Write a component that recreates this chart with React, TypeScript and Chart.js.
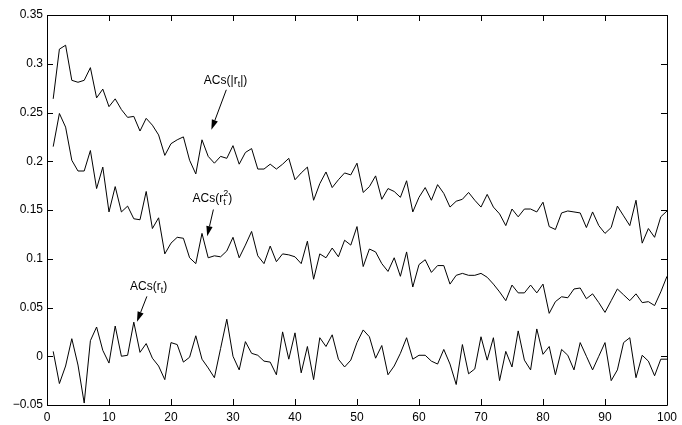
import React, { useEffect, useRef } from "react";
import { Chart, registerables } from "chart.js";

Chart.register(...registerables);

// Lags (x categories)
const lags = [
  1, 2, 3, 4, 5, 6, 7, 8, 9, 10, 11, 12, 13, 14, 15, 16, 17, 18, 19, 20,
  21, 22, 23, 24, 25, 26, 27, 28, 29, 30, 31, 32, 33, 34, 35, 36, 37, 38, 39, 40,
  41, 42, 43, 44, 45, 46, 47, 48, 49, 50, 51, 52, 53, 54, 55, 56, 57, 58, 59, 60,
  61, 62, 63, 64, 65, 66, 67, 68, 69, 70, 71, 72, 73, 74, 75, 76, 77, 78, 79, 80,
  81, 82, 83, 84, 85, 86, 87, 88, 89, 90, 91, 92, 93, 94, 95, 96, 97, 98, 99, 100,
];

// ACs(|r_t|)
const acsAbs = [
  0.264, 0.315, 0.319, 0.283, 0.281, 0.283, 0.296, 0.265, 0.274, 0.256,
  0.264, 0.253, 0.245, 0.246, 0.231, 0.244, 0.237, 0.227, 0.206, 0.218,
  0.222, 0.225, 0.201, 0.187, 0.222, 0.205, 0.198, 0.205, 0.203, 0.216,
  0.197, 0.209, 0.213, 0.192, 0.192, 0.197, 0.192, 0.197, 0.203, 0.181,
  0.188, 0.194, 0.160, 0.177, 0.189, 0.173, 0.181, 0.188, 0.186, 0.198,
  0.168, 0.174, 0.185, 0.161, 0.172, 0.169, 0.163, 0.180, 0.148, 0.163,
  0.173, 0.160, 0.176, 0.167, 0.153, 0.159, 0.161, 0.168, 0.160, 0.153,
  0.166, 0.153, 0.146, 0.134, 0.151, 0.143, 0.151, 0.151, 0.148, 0.158,
  0.133, 0.130, 0.147, 0.149, 0.148, 0.147, 0.132, 0.148, 0.134, 0.126,
  0.132, 0.154, 0.144, 0.134, 0.160, 0.116, 0.131, 0.122, 0.143, 0.149,
];

// ACs(r_t^2)
const acsSq = [
  0.215, 0.249, 0.235, 0.201, 0.190, 0.190, 0.211, 0.172, 0.194, 0.148,
  0.174, 0.148, 0.154, 0.141, 0.140, 0.169, 0.131, 0.142, 0.105, 0.116,
  0.122, 0.121, 0.101, 0.095, 0.126, 0.101, 0.103, 0.102, 0.108, 0.122,
  0.101, 0.114, 0.128, 0.103, 0.095, 0.113, 0.097, 0.105, 0.104, 0.102,
  0.095, 0.118, 0.079, 0.105, 0.101, 0.111, 0.102, 0.119, 0.114, 0.133,
  0.092, 0.110, 0.107, 0.095, 0.087, 0.101, 0.082, 0.107, 0.071, 0.094,
  0.099, 0.086, 0.093, 0.093, 0.074, 0.083, 0.085, 0.083, 0.083, 0.085,
  0.081, 0.074, 0.066, 0.057, 0.073, 0.065, 0.065, 0.073, 0.065, 0.074,
  0.044, 0.056, 0.061, 0.060, 0.069, 0.070, 0.059, 0.064, 0.055, 0.045,
  0.057, 0.069, 0.063, 0.057, 0.064, 0.055, 0.056, 0.052, 0.066, 0.082,
];

// ACs(r_t)
const acsRaw = [
  0.005, -0.028, -0.010, 0.018, -0.009, -0.048, 0.016, 0.030, 0.006, -0.007,
  0.031, 0.000, 0.001, 0.035, 0.004, 0.013, -0.002, -0.010, -0.024, 0.014,
  0.012, -0.006, -0.001, 0.021, -0.003, -0.012, -0.022, 0.008, 0.038, 0.000,
  -0.014, 0.015, 0.003, 0.001, -0.005, -0.006, -0.019, 0.025, -0.003, 0.024,
  -0.017, 0.010, -0.024, 0.019, 0.010, 0.022, -0.003, -0.011, -0.004, 0.014,
  0.027, 0.020, -0.002, 0.011, -0.019, -0.010, 0.003, 0.019, -0.003, 0.001,
  0.001, -0.005, -0.008, 0.007, -0.008, -0.029, 0.012, -0.018, -0.013, 0.020,
  -0.004, 0.019, -0.025, 0.005, -0.011, 0.026, -0.004, -0.014, 0.028, 0.002,
  0.010, -0.019, 0.007, 0.001, -0.014, 0.014, 0.000, -0.014, 0.000, 0.014,
  -0.025, -0.014, 0.014, 0.019, -0.022, 0.001, -0.005, -0.020, -0.003, -0.003,
];

const xTicks = [0, 10, 20, 30, 40, 50, 60, 70, 80, 90, 100];
const yTicks = [-0.05, 0, 0.05, 0.1, 0.15, 0.2, 0.25, 0.3, 0.35];

const FONT = '"Liberation Sans", Arial, Helvetica, sans-serif';

type Part = { t?: string; sub?: string; sup?: string };
type Note = {
  parts: Part[];
  x: number;
  y: number;
  tail: [number, number];
  tip: [number, number];
};

// Annotation anchors in data coordinates (text baseline centre, arrow tail/tip)
const notes: Note[] = [
  {
    parts: [{ t: "ACs(|r" }, { sub: "t" }, { t: "|)" }],
    x: 28.8,
    y: 0.2794,
    tail: [28.92, 0.2733],
    tip: [26.51, 0.2323],
  },
  {
    parts: [{ t: "ACs(r" }, { sub: "t", sup: "2" }, { t: ")" }],
    x: 26.68,
    y: 0.1577,
    tail: [26.84, 0.1505],
    tip: [25.84, 0.1232],
  },
  {
    parts: [{ t: "ACs(r" }, { sub: "t" }, { t: ")" }],
    x: 16.4,
    y: 0.0676,
    tail: [16.11, 0.0614],
    tip: [14.51, 0.0354],
  },
];

function fmt(v: number): string {
  const s = parseFloat(Number(v).toFixed(2)).toString();
  return s.replace("-", "\u2212");
}

const framePlugin = {
  id: "matlabFrame",
  afterDatasetsDraw(chart: any) {
    const { ctx, chartArea, scales } = chart;
    const { left, right, top, bottom } = chartArea;
    const xs = scales.x;
    const ys = scales.y;
    const TL = 6;
    ctx.save();
    ctx.strokeStyle = "#000";
    ctx.lineWidth = 1;
    // box
    ctx.beginPath();
    ctx.rect(Math.round(left) + 0.5, Math.round(top) + 0.5, Math.round(right - left), Math.round(bottom - top));
    ctx.stroke();
    // inward ticks
    ctx.beginPath();
    xTicks.forEach((v) => {
      const px = Math.round(xs.getPixelForValue(v)) + 0.5;
      ctx.moveTo(px, bottom);
      ctx.lineTo(px, bottom - TL);
      ctx.moveTo(px, top);
      ctx.lineTo(px, top + TL);
    });
    yTicks.forEach((v) => {
      const py = Math.round(ys.getPixelForValue(v)) + 0.5;
      ctx.moveTo(left, py);
      ctx.lineTo(left + TL, py);
      ctx.moveTo(right, py);
      ctx.lineTo(right - TL, py);
    });
    ctx.stroke();

    // annotations
    const mainFont = `12px ${FONT}`;
    const smallFont = `9px ${FONT}`;
    ctx.fillStyle = "#000";
    ctx.textBaseline = "alphabetic";
    ctx.textAlign = "left";
    notes.forEach((n) => {
      let w = 0;
      const widths = n.parts.map((p) => {
        if (p.t) {
          ctx.font = mainFont;
          return ctx.measureText(p.t).width;
        }
        ctx.font = smallFont;
        const a = p.sub ? ctx.measureText(p.sub).width : 0;
        const b = p.sup ? ctx.measureText(p.sup).width : 0;
        return Math.max(a, b);
      });
      widths.forEach((ww) => (w += ww));
      const cx = xs.getPixelForValue(n.x);
      const by = ys.getPixelForValue(n.y);
      let x = cx - w / 2;
      n.parts.forEach((p, i) => {
        if (p.t) {
          ctx.font = mainFont;
          ctx.fillText(p.t, x, by);
        } else {
          ctx.font = smallFont;
          if (p.sub) ctx.fillText(p.sub, x, by + 3);
          if (p.sup) ctx.fillText(p.sup, x, by - 6);
        }
        x += widths[i];
      });

      // arrow
      const x0 = xs.getPixelForValue(n.tail[0]);
      const y0 = ys.getPixelForValue(n.tail[1]);
      const x1 = xs.getPixelForValue(n.tip[0]);
      const y1 = ys.getPixelForValue(n.tip[1]);
      const ang = Math.atan2(y1 - y0, x1 - x0);
      const HL = 10;
      const HW = 3.2;
      const bx = x1 - HL * Math.cos(ang);
      const byy = y1 - HL * Math.sin(ang);
      ctx.beginPath();
      ctx.moveTo(x0, y0);
      ctx.lineTo(bx, byy);
      ctx.stroke();
      ctx.beginPath();
      ctx.moveTo(x1, y1);
      ctx.lineTo(bx + HW * Math.sin(ang), byy - HW * Math.cos(ang));
      ctx.lineTo(bx - HW * Math.sin(ang), byy + HW * Math.cos(ang));
      ctx.closePath();
      ctx.fill();
    });
    ctx.restore();
  },
};

export default function App() {
  const ref = useRef<HTMLCanvasElement | null>(null);

  useEffect(() => {
    if (!ref.current) return;
    Chart.defaults.font.family = FONT;
    Chart.defaults.font.size = 12;
    Chart.defaults.color = "#000";
    const mk = (data: number[]) => ({
      data: lags.map((l, i) => ({ x: l, y: data[i] })),
      borderColor: "#000",
      borderWidth: 1,
      pointRadius: 0,
      tension: 0,
      fill: false,
    });
    const chart = new Chart(ref.current, {
      type: "line",
      data: {
        datasets: [mk(acsAbs), mk(acsSq), mk(acsRaw)],
      },
      options: {
        animation: false,
        responsive: false,
        devicePixelRatio: 1,
        layout: { padding: { top: 15, right: 10, left: 0, bottom: 0 } },
        plugins: {
          legend: { display: false },
          tooltip: { enabled: false },
        },
        scales: {
          x: {
            type: "linear",
            min: 0,
            max: 100,
            grid: { display: false, drawTicks: false },
            border: { display: false },
            afterBuildTicks: (s: any) => {
              s.ticks = xTicks.map((v) => ({ value: v }));
            },
            afterFit: (s: any) => {
              s.height = 20;
            },
            ticks: {
              padding: 5,
              maxRotation: 0,
              autoSkip: false,
              color: "#000",
              font: { size: 12, family: FONT },
              callback: (v: any) => fmt(v),
            },
          },
          y: {
            type: "linear",
            min: -0.05,
            max: 0.35,
            grid: { display: false, drawTicks: false },
            border: { display: false },
            afterBuildTicks: (s: any) => {
              s.ticks = yTicks.map((v) => ({ value: v }));
            },
            afterFit: (s: any) => {
              s.width = 47;
            },
            ticks: {
              padding: 4,
              autoSkip: false,
              color: "#000",
              font: { size: 12, family: FONT },
              callback: (v: any) => fmt(v),
            },
          },
        },
      },
      plugins: [framePlugin],
    });
    return () => chart.destroy();
  }, []);

  return (
    <div style={{ position: "absolute", left: 0, top: 0, width: 682, height: 425, background: "#fff" }}>
      <canvas ref={ref} width={682} height={425} style={{ display: "block" }} />
    </div>
  );
}
